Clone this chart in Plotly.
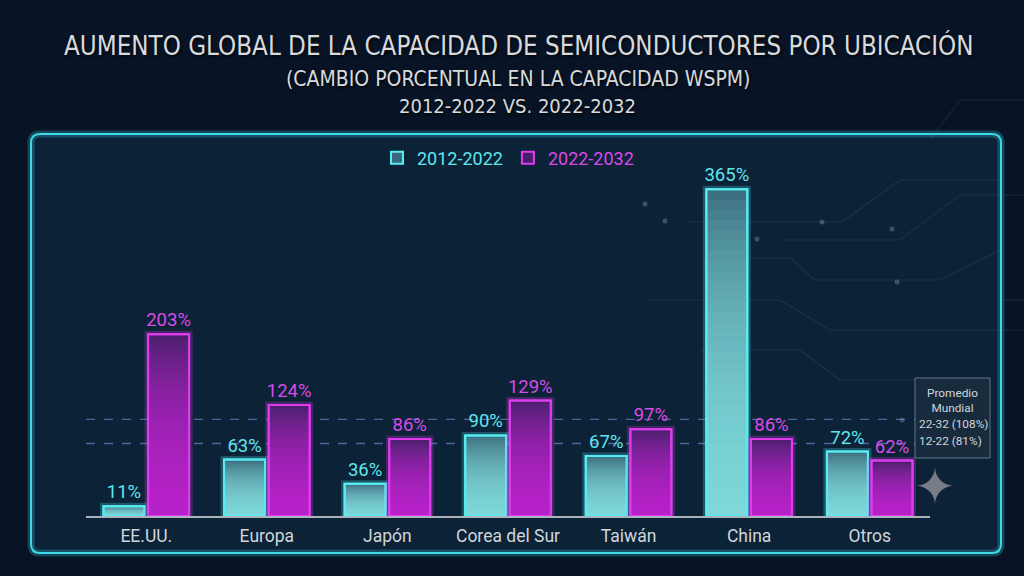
import plotly.graph_objects as go

# ---------------- data ----------------
categories = ["EE.UU.", "Europa", "Japón", "Corea del Sur", "Taiwán", "China", "Otros"]
series_names = ["2012-2022", "2022-2032"]
vals_2012_2022 = [11, 63, 36, 90, 67, 365, 72]
vals_2022_2032 = [203, 124, 86, 129, 97, 86, 62]
world_avg_labels = ["22-32 (108%)", "12-22 (81%)"]
world_avg_values = [108, 81]

title_1 = "AUMENTO GLOBAL DE LA CAPACIDAD DE SEMICONDUCTORES POR UBICACIÓN"
title_2 = "(CAMBIO PORCENTUAL EN LA CAPACIDAD WSPM)"
title_3 = "2012-2022 VS. 2022-2032"

# ---------------- layout geometry (pixels) ----------------
W, H = 1024, 576
L, R, T, B = 86, 930, 150, 516


def px(x):
    return (x - L) / (R - L)


def py(y):
    return (B - y) / (B - T)


BAR_W = 0.34
OFFSETS = [-0.355, 0.015]
styles = [
    dict(edge="#55eef5", top="rgb(56,104,122)", bottom="rgba(150,235,240,{a})",
         glow="rgba(85,238,245,0.25)", label="#5fe6ee"),
    dict(edge="#e03cf0", top="rgb(70,30,106)", bottom="rgba(204,48,226,{a})",
         glow="rgba(224,60,240,0.25)", label="#d94be6"),
]

fig = go.Figure()
N = 32
alpha = 1 - 0.12 ** (1 / N)
for s, (name, vals) in enumerate(zip(series_names, [vals_2012_2022, vals_2022_2032])):
    st = styles[s]
    common = dict(x=categories, width=BAR_W, offset=OFFSETS[s], hoverinfo="skip")
    # glow
    fig.add_trace(go.Bar(y=vals, marker=dict(color="rgba(0,0,0,0)",
                         line=dict(color=st["glow"], width=7)),
                         showlegend=False, **common))
    # base (top colour) -> legend entry
    fig.add_trace(go.Bar(y=vals, name=f"<span style='color:{st['label']}'>{name}</span>",
                         marker=dict(color=st["top"], line=dict(color=st["edge"], width=2)),
                         showlegend=True, **common))
    # vertical gradient layers
    for k in range(1, N + 1):
        fig.add_trace(go.Bar(y=[v * k / N for v in vals],
                             marker=dict(color=st["bottom"].format(a=round(alpha, 4)),
                                         line=dict(width=0)),
                             showlegend=False, **common))
    # crisp border + value labels
    fig.add_trace(go.Bar(y=vals, marker=dict(color="rgba(0,0,0,0)",
                         line=dict(color=st["edge"], width=2)),
                         text=[f"{v}%" for v in vals], textposition="outside",
                         textfont=dict(color=st["label"], size=18.5, family="Roboto"),
                         constraintext="none", cliponaxis=False,
                         showlegend=False, **common))

shapes = []
# panel
x0, x1, y0, y1, r = 31, 1001, 134, 553, 9
panel_path = (
    f"M {px(x0 + r)},{py(y0)} L {px(x1 - r)},{py(y0)} Q {px(x1)},{py(y0)} {px(x1)},{py(y0 + r)} "
    f"L {px(x1)},{py(y1 - r)} Q {px(x1)},{py(y1)} {px(x1 - r)},{py(y1)} "
    f"L {px(x0 + r)},{py(y1)} Q {px(x0)},{py(y1)} {px(x0)},{py(y1 - r)} "
    f"L {px(x0)},{py(y0 + r)} Q {px(x0)},{py(y0)} {px(x0 + r)},{py(y0)} Z"
)
shapes.append(dict(type="path", xref="paper", yref="paper", path=panel_path,
                   fillcolor="rgba(20,64,90,0.33)", line=dict(color="rgba(63,216,232,0.25)", width=7),
                   layer="below"))
shapes.append(dict(type="path", xref="paper", yref="paper", path=panel_path,
                   fillcolor="rgba(0,0,0,0)", line=dict(color="#3fd8e8", width=2), layer="below"))

# faint circuit lines
circuit = [
    [(690, 222), (842, 222), (900, 180), (1001, 180)],
    [(780, 240), (900, 240), (960, 195), (1024, 195)],
    [(720, 258), (790, 258), (815, 280), (940, 280), (1001, 250)],
    [(650, 300), (780, 300), (830, 330), (1024, 330)],
    [(700, 350), (800, 350), (840, 380), (915, 380)],
    [(930, 140), (960, 100), (1024, 100)],
    [(1001, 300), (1024, 300)],
]
for line in circuit:
    d = "M " + " L ".join(f"{px(a)},{py(b)}" for a, b in line)
    shapes.append(dict(type="path", xref="paper", yref="paper", path=d,
                       line=dict(color="rgba(90,150,180,0.16)", width=1.2), layer="below"))
dots = [(757, 239), (822, 222), (892, 229), (897, 282), (645, 204), (665, 221), (902, 420)]
for a, b in dots:
    shapes.append(dict(type="circle", xref="paper", yref="paper",
                       x0=px(a - 2.5), x1=px(a + 2.5), y0=py(b - 2.5), y1=py(b + 2.5),
                       fillcolor="rgba(160,200,220,0.3)", line=dict(width=0), layer="below"))

# world averages (dashed)
for v in world_avg_values:
    shapes.append(dict(type="line", xref="paper", yref="y", x0=0, x1=px(915), y0=v, y1=v,
                       line=dict(color="rgba(110,130,200,0.7)", width=1.3, dash="dash"), layer="below"))

# info box
shapes.append(dict(type="rect", xref="paper", yref="paper", x0=px(915), x1=px(990),
                   y0=py(458), y1=py(378), fillcolor="rgba(25,45,62,0.92)",
                   line=dict(color="rgba(150,170,190,0.6)", width=1)))

annotations = []
shadow = "1px 2px 3px rgba(0,0,0,0.8)"
tfam = "DejaVu Sans Condensed, Roboto"


def ann(text, x, y, font, xanchor="center", align="center"):
    return dict(text=text, x=px(x), y=py(y), xref="paper", yref="paper", showarrow=False,
                xanchor=xanchor, yanchor="middle", font=font, align=align)


annotations += [
    ann(title_1, 518, 46, dict(family=tfam, size=25.7, color="#d8dadc", shadow=shadow)),
    ann(title_2, 518, 79, dict(family=tfam, size=21, color="#d8dadc", shadow=shadow)),
    ann(title_3, 517, 106, dict(family=tfam, size=20, color="#d8dadc", shadow=shadow)),
]
box_font = dict(family="Roboto", size=11.8, color="#d0d6dc")
annotations += [
    ann("Promedio<br>Mundial", 952, 400, box_font),
    ann(world_avg_labels[0], 917, 424, box_font, xanchor="left"),
    ann(world_avg_labels[1], 917, 441, box_font, xanchor="left"),
    ann("✦", 935, 487, dict(family="DejaVu Sans", size=50, color="#767c88")),
]

fig.update_layout(
    width=W, height=H,
    margin=dict(l=L, r=W - R, t=T, b=H - B, pad=0),
    barmode="overlay",
    paper_bgcolor="#081426",
    plot_bgcolor="rgba(0,0,0,0)",
    shapes=shapes,
    annotations=annotations,
    showlegend=True,
    legend=dict(orientation="h", x=0.5, xanchor="center", y=py(158), yanchor="middle",
                font=dict(family="Roboto", size=18), bgcolor="rgba(0,0,0,0)",
                traceorder="normal", itemwidth=30),
    xaxis=dict(range=[-0.5, 6.5], showgrid=False, zeroline=False, showline=True,
               linecolor="#aab2bc", linewidth=1.5, ticks="",
               tickfont=dict(family="Roboto", size=17.5, color="#d0d6dc"),
               ticklabelstandoff=3, fixedrange=True),
    yaxis=dict(range=[0, 409], visible=False, fixedrange=True),
    font=dict(family="Roboto", color="#d0d6dc"),
)

fig.write_html("out.html")
